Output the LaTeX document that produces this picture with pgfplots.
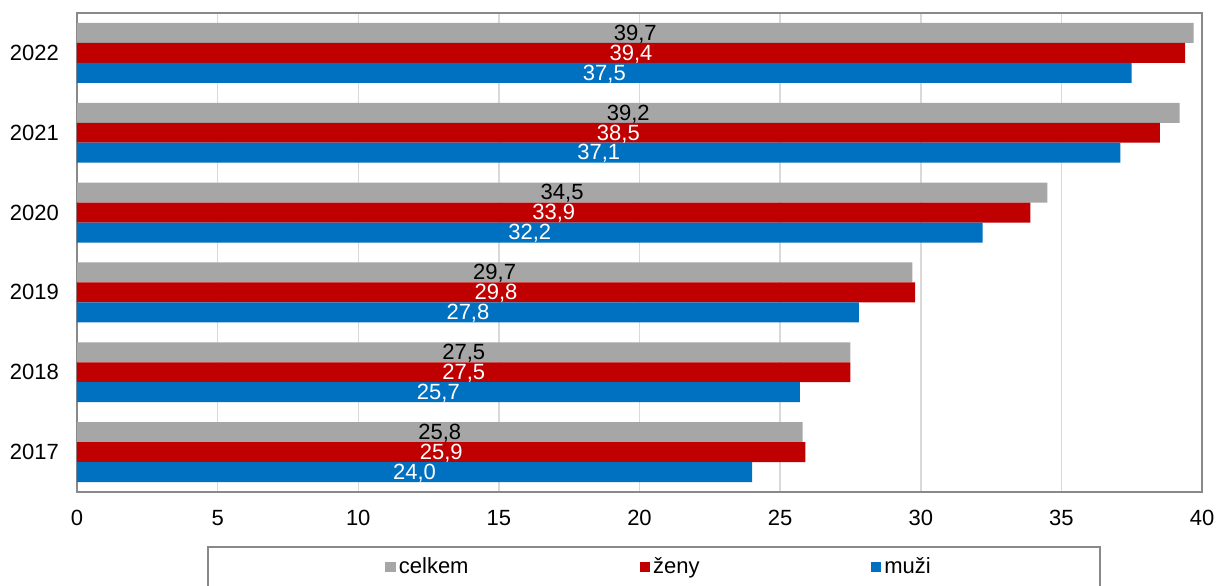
\documentclass[border=0pt]{standalone}
\usepackage{pgfplots}
\pgfplotsset{compat=1.18}
\usepackage{pgfplotstable}
\usepackage{fontspec}
\setmainfont{Liberation Sans}

\definecolor{celkem}{HTML}{A6A6A6}
\definecolor{zeny}{HTML}{C00000}
\definecolor{muzi}{HTML}{0070C0}
\definecolor{gridc}{HTML}{D9D9D9}
\definecolor{axisc}{HTML}{898989}

% rok: 1 = 2017 ... 6 = 2022
\pgfplotstableread{
rok celkem zeny muzi
1 25.8 25.9 24.0
2 27.5 27.5 25.7
3 29.7 29.8 27.8
4 34.5 33.9 32.2
5 39.2 38.5 37.1
6 39.7 39.4 37.5
}\data

\begin{document}
\begin{tikzpicture}[font=\fontsize{11}{13}\selectfont]
\begin{axis}[
  scale only axis, width=562.5pt, height=239.5pt,
  xmin=0, xmax=40, ymin=0.5, ymax=6.5,
  xtick={0,5,...,40},
  ytick={1,2,3,4,5,6},
  yticklabels={2017,2018,2019,2020,2021,2022},
  major tick length=0pt,
  xmajorgrids,
  grid style={gridc, line width=0.75pt},
  axis line style={axisc, line width=0.75pt},
  xticklabel style={yshift=-5.5pt},
  yticklabel style={xshift=-5.5pt},
  /pgf/number format/assume math mode=true,
  legend image code/.code={\fill[#1] (0pt,-2.6pt) rectangle (5.3pt,2.7pt);},
  legend columns=3,
  legend cell align=left,
  legend style={draw=none, fill=none, at={(0.5,0)}, anchor=center,
    xshift=10pt, yshift=-37.5pt,
    nodes={inner xsep=1.5pt, inner ysep=0pt},
    /tikz/every even column/.append style={column sep=84pt}},
  lbl/.style={draw=none, forget plot, point meta=explicit,
    nodes near coords={\pgfmathprintnumber[fixed,fixed zerofill,precision=1,use comma,assume math mode=true]{\pgfplotspointmeta}},
    nodes near coords style={anchor=center, yshift=-0.5pt, text=#1}},
]
% bars
\addplot[xbar, bar width=0.25, bar shift=0.25, fill=celkem, draw=none, forget plot]
  table[x=celkem, y=rok] {\data};
\addplot[xbar, bar width=0.25, bar shift=0, fill=zeny, draw=none, forget plot]
  table[x=zeny, y=rok] {\data};
\addplot[xbar, bar width=0.25, bar shift=-0.25, fill=muzi, draw=none, forget plot]
  table[x=muzi, y=rok] {\data};

% value labels in the middle of each bar
\addplot[lbl=black] table[x expr=\thisrow{celkem}/2, y expr=\thisrow{rok}+0.25, meta=celkem] {\data};
\addplot[lbl=white] table[x expr=\thisrow{zeny}/2, y=rok, meta=zeny] {\data};
\addplot[lbl=white] table[x expr=\thisrow{muzi}/2, y expr=\thisrow{rok}-0.25, meta=muzi] {\data};

\addlegendimage{fill=celkem, draw=none}
\addlegendimage{fill=zeny, draw=none}
\addlegendimage{fill=muzi, draw=none}
\legend{celkem, ženy, muži}
\end{axis}
% legend frame
\draw[axisc, line width=0.75pt] (65.5pt,-27.5pt) rectangle (511.5pt,-50pt);
\pgfresetboundingbox
\path[use as bounding box] (-38.5pt,-46.5pt) rectangle (569.5pt,246pt);
\end{tikzpicture}
\end{document}
